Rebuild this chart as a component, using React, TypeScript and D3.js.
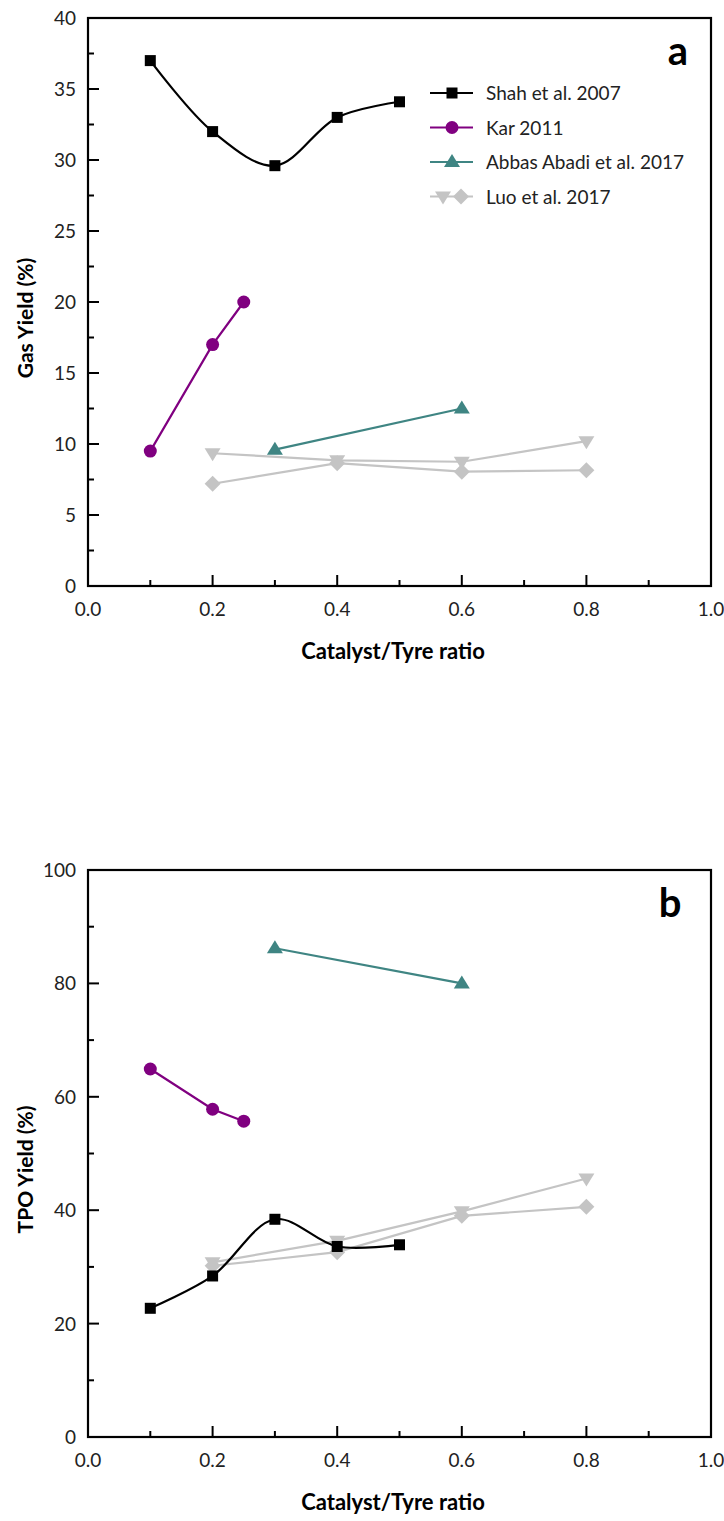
import React from "react";
import * as d3 from "d3";

// ratios used in both panels
const shahX = [0.1, 0.2, 0.3, 0.4, 0.5];
const karX = [0.1, 0.2, 0.25];
const abbasX = [0.3, 0.6];
const luoX = [0.2, 0.4, 0.6, 0.8];

// panel a: gas yield
const gasShah = [37.0, 32.0, 29.6, 33.0, 34.1];
const gasKar = [9.5, 17.0, 20.0];
const gasAbbas = [9.6, 12.5];
const gasLuoTri = [9.35, 8.85, 8.75, 10.2];
const gasLuoDia = [7.2, 8.65, 8.05, 8.15];

// panel b: TPO yield
const tpoShah = [22.7, 28.4, 38.4, 33.6, 33.9];
const tpoKar = [64.9, 57.8, 55.7];
const tpoAbbas = [86.2, 80.0];
const tpoLuoTri = [30.8, 34.6, 39.8, 45.6];
const tpoLuoDia = [30.2, 32.6, 39.0, 40.6];

const xTicks = [0, 0.2, 0.4, 0.6, 0.8, 1.0];
const legendNames = ["Shah et al. 2007", "Kar 2011", "Abbas Abadi et al. 2017", "Luo et al. 2017"];

const BLACK = "#000000";
const PURPLE = "#800080";
const TEAL = "#3f8583";
const GREY = "#c4c4c4";
const FONT = "Lato, 'Open Sans', sans-serif";

type Shape = "square" | "circle" | "up" | "down" | "diamond";

function Marker({ x, y, shape, color }: { x: number; y: number; shape: Shape; color: string }) {
  if (shape === "square") return <rect x={x - 5.5} y={y - 5.5} width={11} height={11} fill={color} />;
  if (shape === "circle") return <circle cx={x} cy={y} r={6.5} fill={color} />;
  if (shape === "up") return <path d={`M${x},${y - 8}L${x + 8},${y + 5}L${x - 8},${y + 5}Z`} fill={color} />;
  if (shape === "down") return <path d={`M${x},${y + 8}L${x + 8},${y - 5}L${x - 8},${y - 5}Z`} fill={color} />;
  return <path d={`M${x},${y - 8}L${x + 8},${y}L${x},${y + 8}L${x - 8},${y}Z`} fill={color} />;
}

function Series({ xs, ys, x, y, color, shape, smooth }: any) {
  const line = d3
    .line<number>()
    .x((_, i) => x(xs[i]))
    .y((v) => y(v))
    .curve(smooth ? d3.curveCatmullRom.alpha(0.5) : d3.curveLinear);
  return (
    <g>
      <path d={line(ys) || ""} fill="none" stroke={color} strokeWidth={2.2} />
      {ys.map((v: number, i: number) => (
        <Marker key={i} x={x(xs[i])} y={y(v)} shape={shape} color={color} />
      ))}
    </g>
  );
}

function Panel({ top, bottom, yMax, yMajor, yLabel, letter, letterX, data, legend }: any) {
  const left = 88;
  const right = 711;
  const x = d3.scaleLinear().domain([0, 1]).range([left, right]);
  const y = d3.scaleLinear().domain([0, yMax]).range([bottom, top]);
  const yTicks = d3.range(0, yMax + 0.001, yMajor);
  const yMinor = d3.range(yMajor / 2, yMax, yMajor);
  const xMinor = d3.range(0.1, 1, 0.2);
  return (
    <g>
      {yTicks.map((t) => (
        <g key={"y" + t}>
          <line x1={left} x2={left + 11} y1={y(t)} y2={y(t)} stroke="#000" strokeWidth={2} />
          <text x={76} y={y(t) + 7} textAnchor="end" fontSize={19} fontFamily={FONT} fill="#222">
            {t}
          </text>
        </g>
      ))}
      {yMinor.map((t) => (
        <line key={"ym" + t} x1={left} x2={left + 6} y1={y(t)} y2={y(t)} stroke="#000" strokeWidth={2} />
      ))}
      {xTicks.map((t) => (
        <g key={"x" + t}>
          <line x1={x(t)} x2={x(t)} y1={bottom} y2={bottom - 11} stroke="#000" strokeWidth={2} />
          <text x={x(t)} y={bottom + 30} textAnchor="middle" fontSize={19} fontFamily={FONT} fill="#222">
            {t.toFixed(1)}
          </text>
        </g>
      ))}
      {xMinor.map((t) => (
        <line key={"xm" + t} x1={x(t)} x2={x(t)} y1={bottom} y2={bottom - 6} stroke="#000" strokeWidth={2} />
      ))}
      <rect x={left} y={top} width={right - left} height={bottom - top} fill="none" stroke="#000" strokeWidth={2.2} />
      <text
        transform={`translate(33,${(top + bottom) / 2 + 16}) rotate(-90)`}
        textAnchor="middle"
        fontSize={21}
        fontWeight="bold"
        fontFamily={FONT}
      >
        {yLabel}
      </text>
      <text x={393} y={bottom + 73} textAnchor="middle" fontSize={22} fontWeight="bold" fontFamily={FONT}>
        Catalyst/Tyre ratio
      </text>
      <text x={letterX} y={top + 47} textAnchor="middle" fontSize={40} fontWeight="bold" fontFamily={FONT}>
        {letter}
      </text>
      <Series xs={luoX} ys={data.luoTri} x={x} y={y} color={GREY} shape="down" />
      <Series xs={luoX} ys={data.luoDia} x={x} y={y} color={GREY} shape="diamond" />
      <Series xs={abbasX} ys={data.abbas} x={x} y={y} color={TEAL} shape="up" />
      <Series xs={karX} ys={data.kar} x={x} y={y} color={PURPLE} shape="circle" />
      <Series xs={shahX} ys={data.shah} x={x} y={y} color={BLACK} shape="square" smooth />
      {legend && (
        <g fontFamily={FONT} fontSize={19} fill="#222">
          {legendNames.map((name, i) => {
            const ly = 93 + i * 34.5;
            const col = [BLACK, PURPLE, TEAL, GREY][i];
            return (
              <g key={name}>
                <line x1={430} x2={473} y1={ly} y2={ly} stroke={col} strokeWidth={2.2} />
                {i === 0 && <Marker x={452} y={ly} shape="square" color={col} />}
                {i === 1 && <Marker x={452} y={ly} shape="circle" color={col} />}
                {i === 2 && <Marker x={452} y={ly} shape="up" color={col} />}
                {i === 3 && (
                  <>
                    <Marker x={443} y={ly} shape="down" color={col} />
                    <Marker x={461} y={ly} shape="diamond" color={col} />
                  </>
                )}
                <text x={486} y={ly + 7}>
                  {name}
                </text>
              </g>
            );
          })}
        </g>
      )}
    </g>
  );
}

export default function App() {
  return (
    <svg width={724} height={1521} style={{ position: "absolute", left: 0, top: 0, background: "#fff" }}>
      <Panel
        top={18}
        bottom={586}
        yMax={40}
        yMajor={5}
        yLabel="Gas Yield (%)"
        letter="a"
        letterX={678}
        legend
        data={{ shah: gasShah, kar: gasKar, abbas: gasAbbas, luoTri: gasLuoTri, luoDia: gasLuoDia }}
      />
      <Panel
        top={870}
        bottom={1437}
        yMax={100}
        yMajor={20}
        yLabel="TPO Yield (%)"
        letter="b"
        letterX={670}
        data={{ shah: tpoShah, kar: tpoKar, abbas: tpoAbbas, luoTri: tpoLuoTri, luoDia: tpoLuoDia }}
      />
    </svg>
  );
}
